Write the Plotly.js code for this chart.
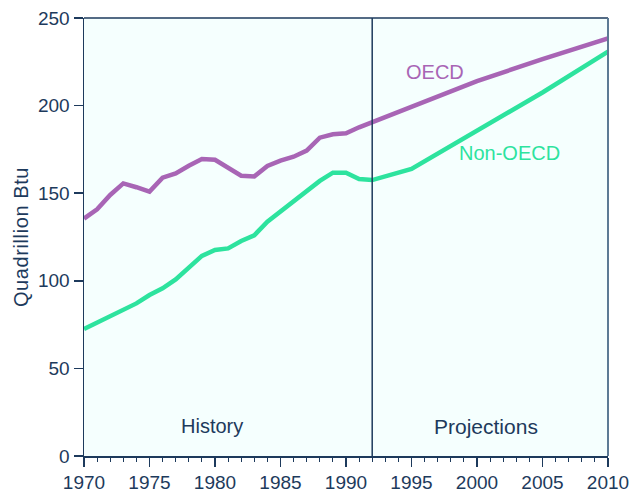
<!DOCTYPE html>
<html>
<head>
<meta charset="utf-8">
<script src="https://cdn.plot.ly/plotly-3.0.1.min.js"></script>
<style>html,body{margin:0;padding:0;background:#fff;}#chart{width:633px;height:489px;}
#chart .ytitle{letter-spacing:0.6px;}</style>
</head>
<body>
<div id="chart"></div>
<script>
const years = [1970,1971,1972,1973,1974,1975,1976,1977,1978,1979,1980,1981,1982,1983,1984,1985,1986,1987,1988,1989,1990,1991,1992,1995,2000,2005,2010];
const oecd = [135.5,140.8,149,155.6,153.4,150.9,158.9,161.3,165.7,169.5,169.1,164.6,160,159.6,165.5,168.6,170.8,174.3,181.7,183.6,184.2,187.6,190.5,199,214,226.5,238.4];
const nonOecd = [72.5,76.1,79.9,83.7,87.1,91.9,95.7,100.8,107.5,114.2,117.6,118.5,122.7,126,133.7,139.5,146.1,151.4,157,161.7,161.7,158.1,157.5,163.8,185.5,207.5,230.8];
const xTicks = [1970,1975,1980,1985,1990,1995,2000,2005,2010];
const yTicks = [0,50,100,150,200,250];
const dividerYear = 1992;
const periodLabels = ["History","Projections"];
const seriesNames = ["OECD","Non-OECD"];

const navy = '#1d3a5c';
const purple = '#a865b5';
const green = '#2de39e';
const font = 'Liberation Sans, Arial, sans-serif';

const data = [
  {x: years, y: oecd, mode: 'lines', name: seriesNames[0], line: {color: purple, width: 4.5}},
  {x: years, y: nonOecd, mode: 'lines', name: seriesNames[1], line: {color: green, width: 4.5}}
];

const layout = {
  width: 633, height: 489,
  margin: {l: 84, r: 25, t: 18, b: 33},
  paper_bgcolor: '#ffffff',
  plot_bgcolor: '#f5fffe',
  showlegend: false,
  font: {family: font, color: navy, size: 19},
  xaxis: {
    range: [1970, 2010], tickvals: xTicks, ticktext: xTicks.map(String),
    showgrid: false, zeroline: false, showline: true, linecolor: navy, linewidth: 1.5,
    ticks: 'outside', ticklen: 9, tickwidth: 1.5, tickcolor: navy,
    tickfont: {family: font, size: 19, color: navy},
    minor: {dtick: 1, tick0: 1970, ticks: 'outside', ticklen: 4, tickwidth: 1, tickcolor: navy, showgrid: false}
  },
  yaxis: {
    range: [0, 250], tickvals: yTicks, ticktext: yTicks.map(String),
    showgrid: false, zeroline: false, showline: true, linecolor: navy, linewidth: 1.5,
    ticks: 'outside', ticklen: 9, tickwidth: 1.5, tickcolor: navy,
    tickfont: {family: font, size: 19, color: navy},
    title: {text: 'Quadrillion Btu', font: {family: font, size: 20, color: navy}, standoff: 4}
  },
  shapes: [
    {type: 'line', xref: 'x', yref: 'y', x0: dividerYear, x1: dividerYear, y0: 0, y1: 250, line: {color: navy, width: 1.5}},
    {type: 'line', xref: 'paper', yref: 'paper', x0: 0, x1: 1, y0: 1, y1: 1, line: {color: navy, width: 1.5}},
    {type: 'line', xref: 'paper', yref: 'paper', x0: 1, x1: 1, y0: 0, y1: 1, line: {color: '#5d7b95', width: 2}}
  ],
  annotations: [
    {x: 1979.8, y: 17, xref: 'x', yref: 'y', text: periodLabels[0], showarrow: false, font: {family: font, size: 20, color: navy}},
    {x: 2000.65, y: 17, xref: 'x', yref: 'y', text: periodLabels[1], showarrow: false, font: {family: font, size: 21, color: navy}},
    {x: 1996.8, y: 219, xref: 'x', yref: 'y', text: seriesNames[0], showarrow: false, font: {family: font, size: 20, color: purple}},
    {x: 2002.5, y: 173, xref: 'x', yref: 'y', text: seriesNames[1], showarrow: false, font: {family: font, size: 20, color: green}}
  ]
};

Plotly.newPlot('chart', data, layout, {displayModeBar: false, staticPlot: true});
</script>
</body>
</html>
